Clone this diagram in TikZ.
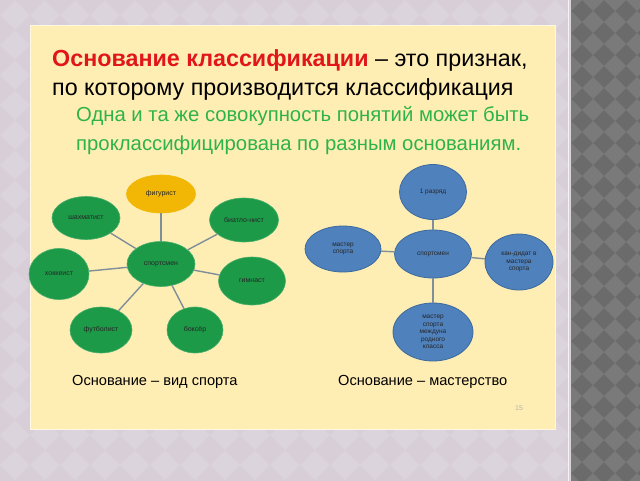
\documentclass[tikz,border=0pt]{standalone}
\usepackage{fontspec}
\setmainfont{Liberation Sans}
\usetikzlibrary{shapes.geometric}
\definecolor{lilac}{HTML}{DCD4DC}
\definecolor{lilacdk}{HTML}{D7CED7}
\definecolor{panel}{HTML}{FFEEB4}
\definecolor{stripdk}{HTML}{6B6B6B}
\definecolor{striplt}{HTML}{7A7A7A}
\definecolor{sportgreen}{HTML}{1C9A48}
\definecolor{sportorange}{HTML}{F2B705}
\definecolor{sportblue}{HTML}{4F81BD}
\definecolor{sportblueln}{HTML}{3D6A9E}
\definecolor{titlered}{HTML}{E0161B}
\definecolor{textgreen}{HTML}{2EB34A}
\definecolor{linkgray}{HTML}{7F8E99}
\begin{document}
\begin{tikzpicture}[x=1pt,y=-1pt]
    \tikzstyle{every node}+=[inner sep=0pt]
    \tikzstyle{kind}=[ellipse, fill=sportgreen, draw=sportgreen!80!white, line width=0.6pt,
      font=\fontsize{7}{8}\selectfont, text=black!85, align=center]
    \tikzstyle{rank}=[ellipse, fill=sportblue, draw=sportblueln, line width=0.8pt,
      font=\fontsize{6.5}{7.5}\selectfont, text=black!85, align=center]
    \tikzstyle{link}=[draw=linkgray, line width=1.4pt]
    \useasboundingbox (0,0) rectangle (640,480);
    % background
    \fill [lilac] (-2,-2) rectangle (642,482);
    \begin{scope}
      \clip (-2,-2) rectangle (570,482);
      \foreach \i in {0,...,19}
        \foreach \j in {0,...,17} {
          \fill [lilacdk] (\i*30,\j*30-15) -- ++(15,15) -- ++(-15,15) -- ++(-15,-15) -- cycle;
        }
    \end{scope}
    \fill [stripdk] (571,-2) rectangle (642,482);
    \begin{scope}
      \clip (571,-2) rectangle (642,482);
      \foreach \i in {0,...,4}
        \foreach \j in {0,...,23} {
          \fill [striplt] (571+\i*22,\j*22-11) -- ++(11,11) -- ++(-11,11) -- ++(-11,-11) -- cycle;
        }
    \end{scope}
    \draw [white!70!lilac, line width=1pt] (568.5,-2) -- (568.5,482);
    \fill [panel] (30,25) rectangle (555,429);
    \draw [white!60!panel, line width=0.8pt] (30,25) rectangle (555,429);
    % heading
    \node [anchor=base west, font=\fontsize{23.3}{26}\selectfont] (head1) at (52,66)
      {\textcolor{titlered}{\bfseries Основание классификации} – это признак,};
    \node [anchor=base west, font=\fontsize{23.3}{26}\selectfont] (head2) at (52,95)
      {по которому производится классификация};
    \node [anchor=base west, font=\fontsize{20.3}{22}\selectfont, text=textgreen] (note1) at (76,121)
      {Одна и та же совокупность понятий может быть};
    \node [anchor=base west, font=\fontsize{20.3}{22}\selectfont, text=textgreen] (note2) at (76,150)
      {проклассифицирована по разным основаниям.};
    % sport kinds
    \node [kind, minimum width=68pt, minimum height=45pt] (sportsmanA) at (161,264) {спортсмен};
    \node [kind, fill=sportorange, draw=sportorange, minimum width=69pt, minimum height=38pt] (figure) at (161,194) {фигурист};
    \node [kind, minimum width=68pt, minimum height=43pt] (chess) at (86,218) {шахматист};
    \node [kind, minimum width=69pt, minimum height=44pt] (biathlon) at (244,220) {биатло-нист};
    \node [kind, minimum width=60pt, minimum height=51pt] (hockey) at (59,274) {хоккеист};
    \node [kind, minimum width=67pt, minimum height=48pt] (gym) at (252,281) {гимнаст};
    \node [kind, minimum width=62pt, minimum height=46pt] (football) at (101,330) {футболист};
    \node [kind, minimum width=56pt, minimum height=46pt] (boxer) at (195,330) {боксёр};
    \foreach \n in {figure,chess,biathlon,hockey,gym,football,boxer}
      \draw [link] (sportsmanA) -- (\n);
    % skill
    \node [rank, minimum width=77pt, minimum height=48pt] (sportsmanB) at (433,254) {спортсмен};
    \node [rank, minimum width=67pt, minimum height=55pt] (rank1) at (433,192) {1 разряд};
    \node [rank, minimum width=76pt, minimum height=46pt] (master) at (343,249) {мастер\\спорта};
    \node [rank, minimum width=68pt, minimum height=56pt] (candidate) at (519,262) {кан-дидат в\\мастера\\спорта};
    \node [rank, minimum width=80pt, minimum height=58pt] (intl) at (433,332) {мастер\\спорта\\междуна\\родного\\класса};
    \foreach \n in {rank1,master,candidate,intl}
      \draw [link] (sportsmanB) -- (\n);
    % captions
    \node [anchor=base west, font=\fontsize{14.6}{16}\selectfont] (capA) at (72,385) {Основание – вид спорта};
    \node [anchor=base west, font=\fontsize{14.6}{16}\selectfont] (capB) at (338,385) {Основание – мастерство};
    \node [font=\fontsize{7}{8}\selectfont, text=black!30] (page) at (519,408) {15};
\end{tikzpicture}
\end{document}
